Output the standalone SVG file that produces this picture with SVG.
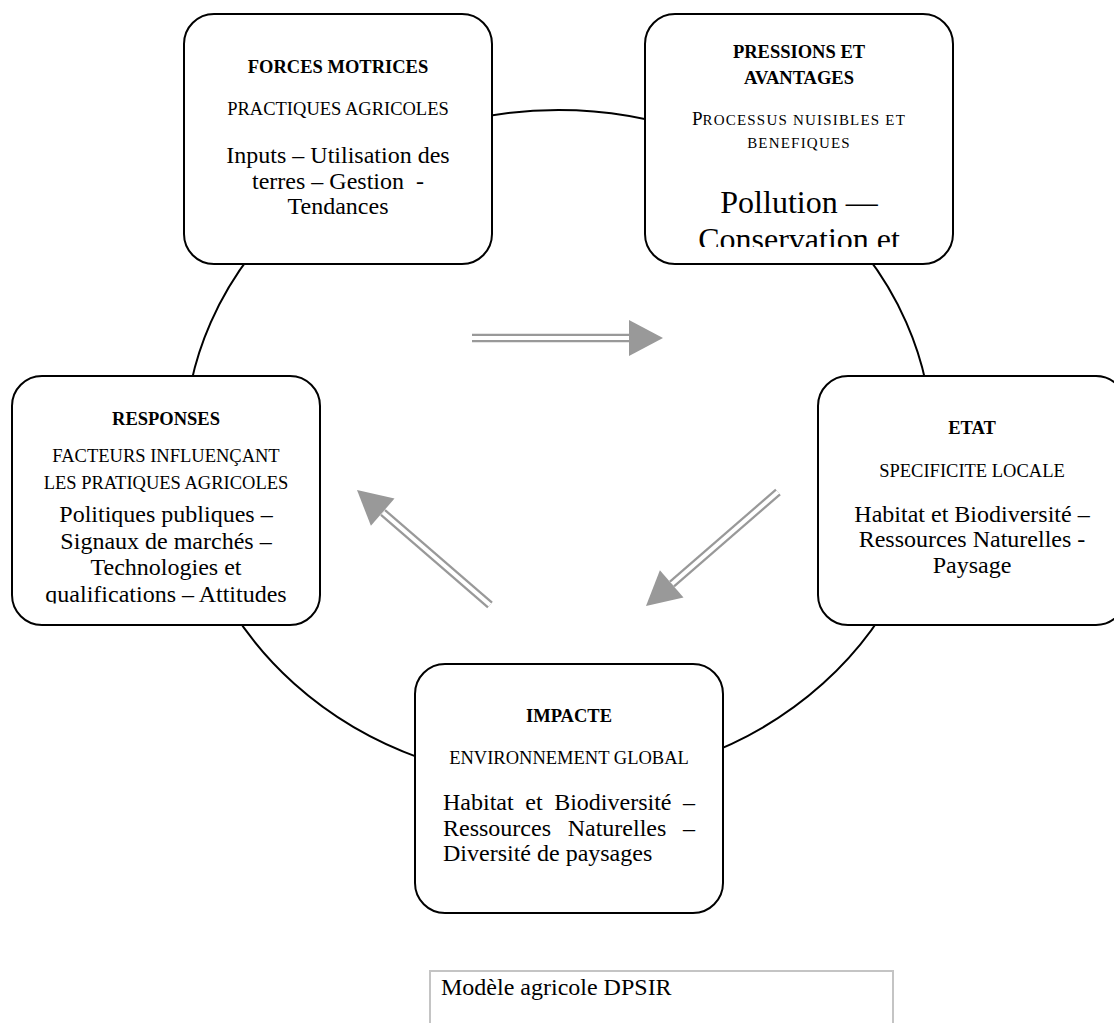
<svg xmlns="http://www.w3.org/2000/svg" width="1114" height="1023" viewBox="0 0 1114 1023">
<style>
.box{fill:#fff;stroke:#000;stroke-width:2}
text{font-family:"Liberation Serif","Times New Roman",serif;fill:#000;text-anchor:middle}
.t{font-weight:bold;font-size:18.5px}
.c{font-size:18.5px}
.b{font-size:24px}
.sc{font-size:15px;letter-spacing:1.2px}
.shaft{stroke:#999;stroke-width:8.5;fill:none}
.gap{stroke:#fff;stroke-width:4;fill:none}
.head{fill:#999}
</style>
<defs>
<clipPath id="clipP"><rect x="645" y="14" width="308" height="233"/></clipPath>
<clipPath id="clipR"><rect x="12" y="376" width="308" height="227.5"/></clipPath>
</defs>
<rect x="0" y="0" width="1114" height="1023" fill="#fff"/>
<g id="cycle">
<ellipse cx="558.5" cy="446" rx="374" ry="336" fill="none" stroke="#000" stroke-width="2"/>
</g>
<g id="connectors">
<line class="shaft" x1="472" y1="338" x2="630" y2="338"/>
<line class="gap" x1="472" y1="338" x2="630" y2="338"/>
<polygon class="head" points="629,320 663,338 629,356"/>
<line class="shaft" x1="778" y1="492" x2="672" y2="584"/>
<line class="gap" x1="778" y1="492" x2="672" y2="584"/>
<polygon class="head" points="683.5,597.4 646,606 659.9,570.2"/>
<line class="shaft" x1="490" y1="605" x2="383" y2="512.5"/>
<line class="gap" x1="490" y1="605" x2="383" y2="512.5"/>
<polygon class="head" points="394.5,498.6 357,490 370.9,525.8"/>
</g>
<g id="forces">
<rect class="box" x="184" y="14" width="308" height="250" rx="30"/>
<text class="t" x="338" y="73">FORCES MOTRICES</text>
<text class="c" x="338" y="115">PRACTIQUES AGRICOLES</text>
<text class="b" x="338" y="163">Inputs – Utilisation des</text>
<text class="b" x="338" y="189" xml:space="preserve">terres – Gestion  -</text>
<text class="b" x="338" y="214">Tendances</text>
</g>
<g id="pressions">
<rect class="box" x="645" y="14" width="308" height="250" rx="30"/>
<g clip-path="url(#clipP)">
<text class="t" x="799" y="57.5">PRESSIONS ET</text>
<text class="t" x="799" y="83.5">AVANTAGES</text>
<text x="799" y="125"><tspan style="font-size:19px">P</tspan><tspan class="sc">ROCESSUS NUISIBLES ET</tspan></text>
<text class="sc" x="799" y="148">BENEFIQUES</text>
<text style="font-size:32px" x="799" y="213">Pollution —</text>
<text style="font-size:32px" x="799" y="250">Conservation et</text>
</g>
</g>
<g id="responses">
<rect class="box" x="12" y="376" width="308" height="249" rx="30"/>
<g clip-path="url(#clipR)">
<text class="t" x="166" y="425">RESPONSES</text>
<text class="c" x="166" y="462">FACTEURS INFLUENÇANT</text>
<text class="c" x="166" y="488.5">LES PRATIQUES AGRICOLES</text>
<text class="b" x="166" y="522">Politiques publiques –</text>
<text class="b" x="166" y="548.5">Signaux de marchés –</text>
<text class="b" x="166" y="575">Technologies et</text>
<text class="b" x="166" y="602">qualifications – Attitudes</text>
</g>
</g>
<g id="etat">
<rect class="box" x="818" y="376" width="308" height="249" rx="30"/>
<text class="t" x="972" y="434">ETAT</text>
<text class="c" x="972" y="477">SPECIFICITE LOCALE</text>
<text class="b" x="972" y="521.5">Habitat et Biodiversité –</text>
<text class="b" x="972" y="547">Ressources Naturelles -</text>
<text class="b" x="972" y="572.5">Paysage</text>
</g>
<g id="impacte">
<rect class="box" x="415" y="664" width="308" height="249" rx="30"/>
<text class="t" x="569" y="722">IMPACTE</text>
<text class="c" x="569" y="764">ENVIRONNEMENT GLOBAL</text>
<text class="b" style="text-anchor:start" y="810"><tspan x="443">Habitat</tspan><tspan x="525.3">et</tspan><tspan x="554.2">Biodiversité</tspan><tspan x="683">–</tspan></text>
<text class="b" style="text-anchor:start" y="835.5"><tspan x="443">Ressources</tspan><tspan x="567.7">Naturelles</tspan><tspan x="683">–</tspan></text>
<text class="b" style="text-anchor:start" x="443" y="860.5">Diversité de paysages</text>
</g>
<g id="caption">
<rect x="430" y="971" width="463" height="80" fill="#fff" stroke="#c4c4c4" stroke-width="2"/>
<text class="b" style="text-anchor:start" x="441" y="995">Modèle agricole DPSIR</text>
</g>
</svg>
